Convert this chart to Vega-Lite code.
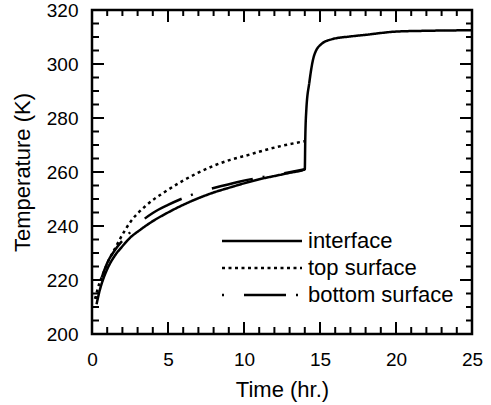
{
  "$schema": "https://vega.github.io/schema/vega-lite/v6.json",
  "width": 380,
  "height": 324,
  "autosize": "none",
  "padding": {"left": 92, "top": 10, "right": 19, "bottom": 71},
  "background": "white",
  "config": {
    "font": "Liberation Sans",
    "view": {"stroke": "black", "strokeWidth": 2.5},
    "axis": {"domain": false, "grid": false, "ticks": false, "labelColor": "black", "titleColor": "black", "labelFont": "Liberation Sans", "titleFont": "Liberation Sans", "labelOverlap": false, "labelFlush": false, "titleFontWeight": "normal"}
  },
  "datasets": {
    "xmaj": [{"v": 0}, {"v": 5}, {"v": 10}, {"v": 15}, {"v": 20}, {"v": 25}],
    "xmin": [{"v": 1}, {"v": 2}, {"v": 3}, {"v": 4}, {"v": 6}, {"v": 7}, {"v": 8}, {"v": 9}, {"v": 11}, {"v": 12}, {"v": 13}, {"v": 14}, {"v": 16}, {"v": 17}, {"v": 18}, {"v": 19}, {"v": 21}, {"v": 22}, {"v": 23}, {"v": 24}],
    "ymaj": [{"v": 220}, {"v": 240}, {"v": 260}, {"v": 280}, {"v": 300}],
    "ymin": [{"v": 205}, {"v": 210}, {"v": 215}, {"v": 225}, {"v": 230}, {"v": 235}, {"v": 245}, {"v": 250}, {"v": 255}, {"v": 265}, {"v": 270}, {"v": 275}, {"v": 285}, {"v": 290}, {"v": 295}, {"v": 305}, {"v": 310}, {"v": 315}],
    "curves": [
      {"series": "interface", "t": 0.3, "T": 211},
      {"series": "interface", "t": 0.5, "T": 216},
      {"series": "interface", "t": 0.75, "T": 220.5},
      {"series": "interface", "t": 1, "T": 224},
      {"series": "interface", "t": 1.5, "T": 229},
      {"series": "interface", "t": 2, "T": 232.5},
      {"series": "interface", "t": 2.5, "T": 235.6},
      {"series": "interface", "t": 3.2, "T": 238.7},
      {"series": "interface", "t": 4, "T": 241.8},
      {"series": "interface", "t": 5, "T": 245},
      {"series": "interface", "t": 5.8, "T": 247.3},
      {"series": "interface", "t": 7, "T": 250.3},
      {"series": "interface", "t": 8, "T": 252.4},
      {"series": "interface", "t": 9.1, "T": 254.3},
      {"series": "interface", "t": 10, "T": 255.8},
      {"series": "interface", "t": 11, "T": 257.3},
      {"series": "interface", "t": 12, "T": 258.5},
      {"series": "interface", "t": 13, "T": 259.7},
      {"series": "interface", "t": 14, "T": 261},
      {"series": "interface", "t": 14.03, "T": 272},
      {"series": "interface", "t": 14.1, "T": 283},
      {"series": "interface", "t": 14.3, "T": 293.2},
      {"series": "interface", "t": 14.6, "T": 302.9},
      {"series": "interface", "t": 15.07, "T": 307.3},
      {"series": "interface", "t": 15.8, "T": 309.2},
      {"series": "interface", "t": 17, "T": 310.2},
      {"series": "interface", "t": 18, "T": 310.8},
      {"series": "interface", "t": 20, "T": 312},
      {"series": "interface", "t": 22, "T": 312.3},
      {"series": "interface", "t": 25, "T": 312.5},
      {"series": "top surface", "t": 0.2, "T": 213},
      {"series": "top surface", "t": 0.5, "T": 219},
      {"series": "top surface", "t": 0.75, "T": 222.6},
      {"series": "top surface", "t": 1.05, "T": 226.8},
      {"series": "top surface", "t": 1.5, "T": 231.5},
      {"series": "top surface", "t": 1.9, "T": 235.8},
      {"series": "top surface", "t": 2.5, "T": 241.3},
      {"series": "top surface", "t": 3.5, "T": 247.3},
      {"series": "top surface", "t": 4.7, "T": 252.3},
      {"series": "top surface", "t": 6, "T": 256.8},
      {"series": "top surface", "t": 6.9, "T": 259.5},
      {"series": "top surface", "t": 8, "T": 262.3},
      {"series": "top surface", "t": 9.1, "T": 264.5},
      {"series": "top surface", "t": 10.4, "T": 266.5},
      {"series": "top surface", "t": 11.05, "T": 267.6},
      {"series": "top surface", "t": 12.5, "T": 269.7},
      {"series": "top surface", "t": 14, "T": 271.4},
      {"series": "bottom surface", "t": 0.3, "T": 213},
      {"series": "bottom surface", "t": 0.5, "T": 218},
      {"series": "bottom surface", "t": 1, "T": 226.3},
      {"series": "bottom surface", "t": 1.5, "T": 231},
      {"series": "bottom surface", "t": 2.3, "T": 236.4},
      {"series": "bottom surface", "t": 3.2, "T": 241.5},
      {"series": "bottom surface", "t": 4, "T": 244.8},
      {"series": "bottom surface", "t": 5, "T": 247.8},
      {"series": "bottom surface", "t": 6.25, "T": 250.9},
      {"series": "bottom surface", "t": 7.3, "T": 253},
      {"series": "bottom surface", "t": 8.45, "T": 254.7},
      {"series": "bottom surface", "t": 9.75, "T": 256.5},
      {"series": "bottom surface", "t": 11.7, "T": 258.6},
      {"series": "bottom surface", "t": 13, "T": 259.9},
      {"series": "bottom surface", "t": 14, "T": 261}
    ]
  },
  "layer": [
    {
      "data": {"name": "curves"},
      "mark": {"type": "line", "interpolate": "monotone", "strokeWidth": 2.5, "color": "black"},
      "encoding": {
        "x": {"field": "t", "type": "quantitative", "scale": {"domain": [0, 25], "nice": false},
          "axis": {"orient": "bottom", "values": [0, 5, 10, 15, 20, 25],
            "labelFontSize": 19, "labelPadding": 16, "title": "Time (hr.)", "titleFontSize": 22, "titlePadding": 10}},
        "y": {"field": "T", "type": "quantitative", "scale": {"domain": [200, 320], "nice": false},
          "axis": {"orient": "left", "values": [200, 220, 240, 260, 280, 300, 320],
            "labelFontSize": 19, "labelPadding": 14, "title": "Temperature (K)", "titleFontSize": 22, "titlePadding": 12}},
        "strokeDash": {"field": "series", "type": "nominal",
          "scale": {"domain": ["interface", "top surface", "bottom surface"], "range": [[1, 0], [3, 3.5], [2, 20, 42, 10]]},
          "legend": {"orient": "none", "legendX": 159, "legendY": 220, "title": null, "symbolType": "M-8,0H8", "symbolSize": 100, "symbolStrokeWidth": 2.5, "symbolStrokeColor": "black", "labelFontSize": 22, "labelFont": "Liberation Sans", "labelColor": "black", "labelOffset": 35, "rowPadding": 5}}
      }
    },
    {
      "data": {"name": "xmaj"},
      "mark": {"type": "tick", "orient": "vertical", "size": 12, "thickness": 2, "yOffset": -6, "color": "black", "opacity": 1},
      "encoding": {"x": {"field": "v", "type": "quantitative", "axis": null}, "y": {"datum": 200, "type": "quantitative", "axis": null}}
    },
    {
      "data": {"name": "xmaj"},
      "mark": {"type": "tick", "orient": "vertical", "size": 12, "thickness": 2, "yOffset": 6, "color": "black", "opacity": 1},
      "encoding": {"x": {"field": "v", "type": "quantitative", "axis": null}, "y": {"datum": 320, "type": "quantitative", "axis": null}}
    },
    {
      "data": {"name": "xmin"},
      "mark": {"type": "tick", "orient": "vertical", "size": 7, "thickness": 2, "yOffset": -3.5, "color": "black", "opacity": 1},
      "encoding": {"x": {"field": "v", "type": "quantitative", "axis": null}, "y": {"datum": 200, "type": "quantitative", "axis": null}}
    },
    {
      "data": {"name": "xmin"},
      "mark": {"type": "tick", "orient": "vertical", "size": 6, "thickness": 2, "yOffset": 3, "color": "black", "opacity": 1},
      "encoding": {"x": {"field": "v", "type": "quantitative", "axis": null}, "y": {"datum": 320, "type": "quantitative", "axis": null}}
    },
    {
      "data": {"name": "ymaj"},
      "mark": {"type": "tick", "orient": "horizontal", "size": 12, "thickness": 2, "xOffset": 6, "color": "black", "opacity": 1},
      "encoding": {"y": {"field": "v", "type": "quantitative", "axis": null}, "x": {"datum": 0, "type": "quantitative", "axis": null}}
    },
    {
      "data": {"name": "ymaj"},
      "mark": {"type": "tick", "orient": "horizontal", "size": 12, "thickness": 2, "xOffset": -6, "color": "black", "opacity": 1},
      "encoding": {"y": {"field": "v", "type": "quantitative", "axis": null}, "x": {"datum": 25, "type": "quantitative", "axis": null}}
    },
    {
      "data": {"name": "ymin"},
      "mark": {"type": "tick", "orient": "horizontal", "size": 7, "thickness": 2, "xOffset": 3.5, "color": "black", "opacity": 1},
      "encoding": {"y": {"field": "v", "type": "quantitative", "axis": null}, "x": {"datum": 0, "type": "quantitative", "axis": null}}
    },
    {
      "data": {"name": "ymin"},
      "mark": {"type": "tick", "orient": "horizontal", "size": 6, "thickness": 2, "xOffset": -3, "color": "black", "opacity": 1},
      "encoding": {"y": {"field": "v", "type": "quantitative", "axis": null}, "x": {"datum": 25, "type": "quantitative", "axis": null}}
    }
  ],
  "resolve": {"axis": {"x": "independent", "y": "independent"}}
}
